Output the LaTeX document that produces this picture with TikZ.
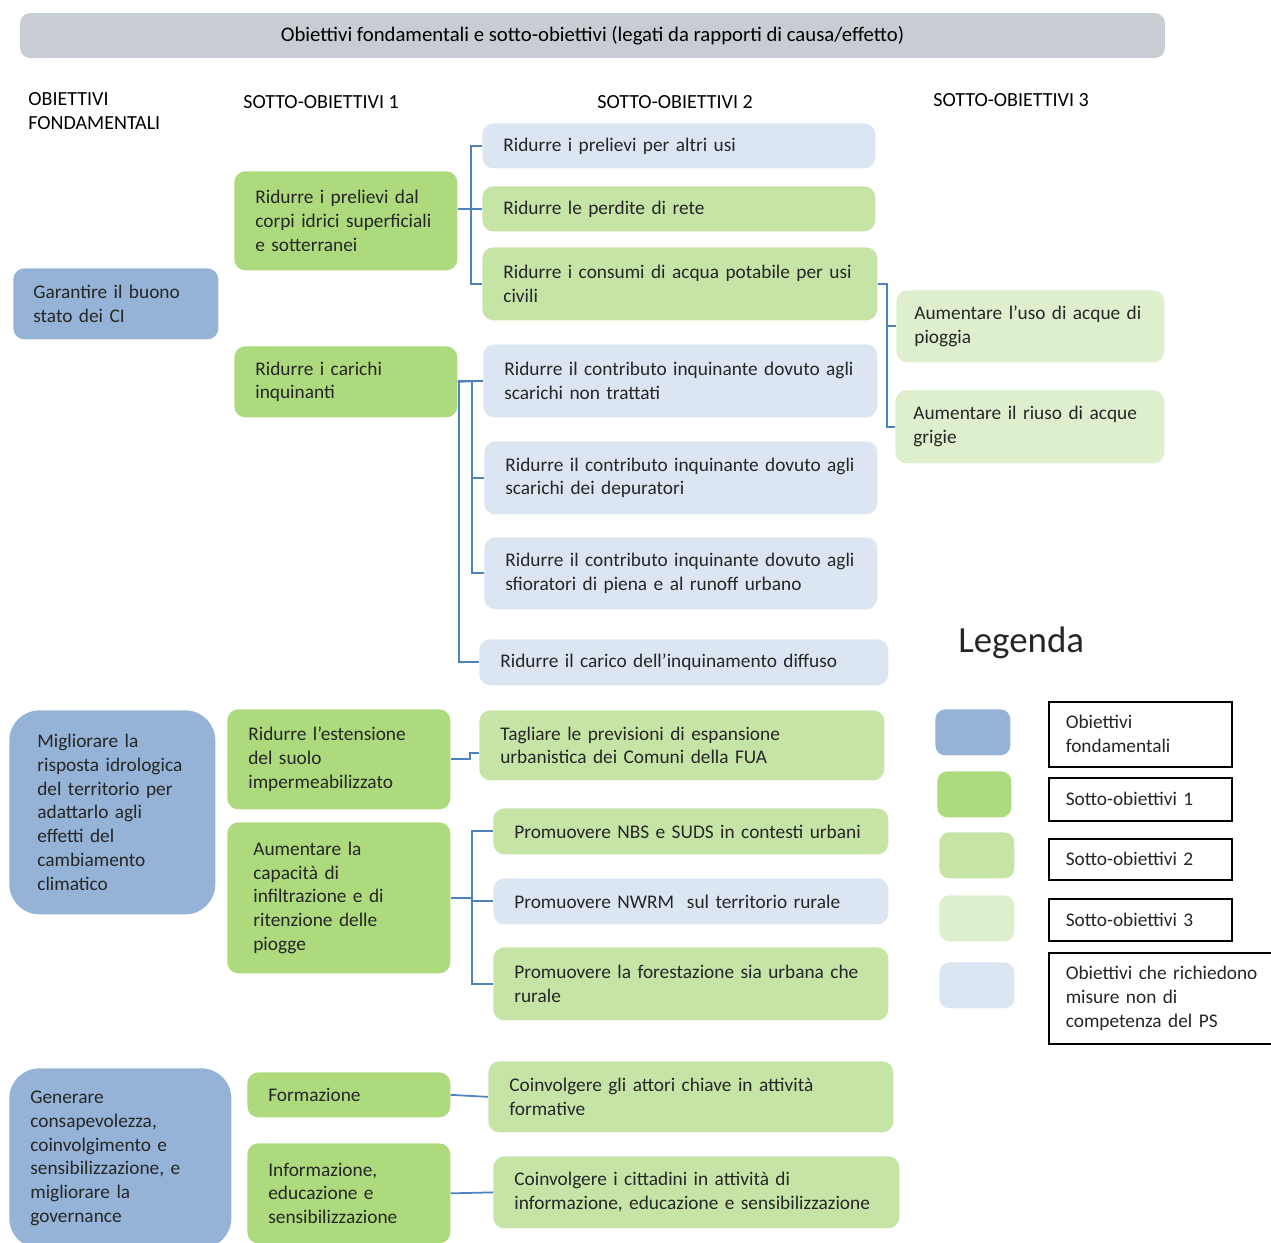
\documentclass[tikz,border=0pt]{standalone}
\usepackage{fontspec}
\setmainfont{Carlito}
\usepackage{xcolor}
\usepackage{tikz}
\definecolor{fundblue}{RGB}{149,179,215}
\definecolor{subgreen}{RGB}{173,218,124}
\definecolor{midgreen}{RGB}{199,228,167}
\definecolor{palegreen}{RGB}{222,239,206}
\definecolor{paleblue}{RGB}{220,230,242}
\definecolor{bargray}{RGB}{200,205,212}
\definecolor{linkblue}{RGB}{79,129,189}
\definecolor{textgray}{RGB}{38,38,38}
\tikzset{
    goal/.style={
        rectangle,
        rounded corners=0.22cm,
        anchor=north west,
        inner xsep=0.42cm,
        inner ysep=0pt,
        align=left,
        text=textgray,
        font=\fontsize{11pt}{13.6pt}\selectfont
    },
    fundamental/.style={
        goal,
        fill=fundblue
    },
    subgoal/.style={
        goal,
        fill=subgreen
    },
    second/.style={
        goal,
        fill=midgreen
    },
    third/.style={
        goal,
        fill=palegreen
    },
    external/.style={
        goal,
        fill=paleblue
    },
    wire/.style={
        draw=linkblue,
        line width=1pt
    },
    header/.style={
        anchor=west,
        inner sep=0pt,
        align=left,
        text=black,
        font=\fontsize{11.4pt}{13.6pt}\selectfont
    },
    legendbox/.style={
        rectangle,
        draw=black,
        line width=0.9pt,
        fill=white,
        anchor=north west,
        inner xsep=0.34cm,
        inner ysep=0pt,
        align=left,
        text=textgray,
        font=\fontsize{11pt}{13.6pt}\selectfont
    },
    swatch/.style={
        rectangle,
        rounded corners=0.2cm,
        anchor=north west,
        inner sep=0pt,
        minimum width=1.5cm,
        minimum height=0.92cm
    }
}
\begin{document}
\begin{tikzpicture}[x=0.02cm, y=-0.02cm]
\useasboundingbox (0,0) rectangle (1271,1242);

% Title bar and column headers
\node[rectangle, rounded corners=0.2cm, fill=bargray, minimum width=22.9cm, minimum height=0.9cm, font=\fontsize{11.8pt}{13.6pt}\selectfont] (title) at (592.5,35.5) {Obiettivi fondamentali e sotto-obiettivi (legati da rapporti di causa/effetto)};
\node[header] (h0) at (28,111) {OBIETTIVI\\FONDAMENTALI};
\node[header] (h1) at (243,102) {SOTTO-OBIETTIVI 1};
\node[header] (h2) at (597,102) {SOTTO-OBIETTIVI 2};
\node[header] (h3) at (933,100) {SOTTO-OBIETTIVI 3};

% Obiettivi fondamentali
\node[fundamental, text width=3.3cm, inner xsep=0.4cm, minimum height=1.42cm] (f1) at (13,268) {Garantire il buono\\stato dei CI};
\node[fundamental, rounded corners=0.6cm, text width=3.0cm, inner xsep=0.56cm, minimum height=4.08cm] (f2) at (9,710) {Migliorare la\\risposta idrologica\\del territorio per\\adattarlo agli\\effetti del\\cambiamento\\climatico};
\node[fundamental, rounded corners=0.6cm, text width=3.6cm, minimum height=3.6cm] (f3) at (9,1068) {Generare\\consapevolezza,\\coinvolgimento e\\sensibilizzazione, e\\migliorare la\\governance};

% Sotto-obiettivi 1
\node[subgoal, text width=3.62cm, minimum height=1.98cm] (s1a) at (234,171) {Ridurre i prelievi dal\\corpi idrici superficiali\\e sotterranei};
\node[subgoal, text width=3.62cm, minimum height=1.42cm] (s1b) at (234,346) {Ridurre i carichi\\inquinanti};
\node[subgoal, text width=3.62cm, minimum height=2cm] (s1c) at (227,709) {Ridurre l’estensione\\del suolo\\impermeabilizzato};
\node[subgoal, text width=3.42cm, inner xsep=0.52cm, minimum height=3.02cm] (s1d) at (227,822) {Aumentare la\\capacità di\\infiltrazione e di\\ritenzione delle\\piogge};
\node[subgoal, text width=3.22cm, minimum height=0.9cm] (s1e) at (247,1072) {Formazione};
\node[subgoal, text width=3.22cm, minimum height=2cm] (s1f) at (247,1143) {Informazione,\\educazione e\\sensibilizzazione};

% Sotto-obiettivi 2: prelievi
\node[external, text width=7.02cm, minimum height=0.9cm] (a1) at (482,123) {Ridurre i prelievi per altri usi};
\node[second, text width=7.02cm, minimum height=0.9cm] (a2) at (482,186) {Ridurre le perdite di rete};
\node[second, text width=7.06cm, minimum height=1.46cm] (a3) at (482,247) {Ridurre i consumi di acqua potabile per usi\\civili};

% Sotto-obiettivi 2: carichi inquinanti
\node[external, text width=7.04cm, minimum height=1.46cm] (b1) at (483,344) {Ridurre il contributo inquinante dovuto agli\\scarichi non trattati};
\node[external, text width=7.02cm, minimum height=1.46cm] (b2) at (484,441) {Ridurre il contributo inquinante dovuto agli\\scarichi dei depuratori};
\node[external, text width=7.02cm, minimum height=1.44cm] (b3) at (484,537) {Ridurre il contributo inquinante dovuto agli\\sfioratori di piena e al runoff urbano};
\node[external, text width=7.34cm, minimum height=0.92cm] (b4) at (479,639) {Ridurre il carico dell’inquinamento diffuso};

% Sotto-obiettivi 2: risposta idrologica
\node[second, text width=7.26cm, minimum height=1.4cm] (c1) at (479,710) {Tagliare le previsioni di espansione\\urbanistica dei Comuni della FUA};
\node[second, text width=7.06cm, minimum height=0.92cm] (d1) at (493,808) {Promuovere NBS e SUDS in contesti urbani};
\node[external, text width=7.06cm, minimum height=0.92cm] (d2) at (493,878) {Promuovere NWRM\ \ sul territorio rurale};
\node[second, text width=7.06cm, minimum height=1.46cm] (d3) at (493,947) {Promuovere la forestazione sia urbana che\\rurale};

% Sotto-obiettivi 2: consapevolezza
\node[second, text width=7.26cm, minimum height=1.42cm] (e1) at (488,1061) {Coinvolgere gli attori chiave in attività\\formative};
\node[second, text width=7.28cm, minimum height=1.44cm] (e2) at (493,1156) {Coinvolgere i cittadini in attività di\\informazione, educazione e sensibilizzazione};

% Sotto-obiettivi 3
\node[third, text width=4.64cm, inner xsep=0.36cm, minimum height=1.44cm] (g1) at (896,290) {Aumentare l’uso di acque di\\pioggia};
\node[third, text width=4.66cm, inner xsep=0.36cm, minimum height=1.46cm] (g2) at (895,390) {Aumentare il riuso di acque\\grigie};

% Connections
\draw[wire] (s1a.east |- a2.west) -- (a2.west);
\draw[wire] (a1.west) -- ++(-11,0) |- (a3.west);
\draw[wire] (a3.east) -- ++(9,0) |- (g2.west);
\draw[wire] (g1.west) -- ++(-10,0);
\draw[wire] (s1b.east) -- (b1.west);
\draw[wire] (b1.west) -- ++(-11,0) |- (b3.west);
\draw[wire] (b2.west) -- ++(-12,0);
\draw[wire] (b1.west) -- ++(-24,0) |- (b4.west);
\draw[wire] (s1c.east) -- ++(19,0) |- ([yshift=-0.16cm]c1.west);
\draw[wire] (s1d.east) -- ++(22,0);
\draw[wire] (d1.west) -- ++(-21,0) |- (d3.west);
\draw[wire] (d2.west) -- ++(-21,0);
\draw[wire] (s1e.east) -- (e1.west);
\draw[wire] (s1f.east) -- (e2.west);

% Legend
\node[header, text=textgray, font=\fontsize{21pt}{25pt}\selectfont] (legtitle) at (958,643) {Legenda};
\node[swatch, fill=fundblue] (sw1) at (935,709) {};
\node[swatch, fill=subgreen, minimum width=1.48cm] (sw2) at (937,771) {};
\node[swatch, fill=midgreen] (sw3) at (939,832) {};
\node[swatch, fill=palegreen] (sw4) at (939,895) {};
\node[swatch, fill=paleblue] (sw5) at (939,962) {};
\node[legendbox, text width=2.98cm, minimum height=1.3cm] (leg1) at (1048,701) {Obiettivi\\fondamentali};
\node[legendbox, text width=2.98cm, minimum height=0.86cm] (leg2) at (1048,777) {Sotto-obiettivi 1};
\node[legendbox, text width=2.98cm, minimum height=0.82cm] (leg3) at (1048,838) {Sotto-obiettivi 2};
\node[legendbox, text width=2.98cm, minimum height=0.84cm] (leg4) at (1048,898) {Sotto-obiettivi 3};
\node[legendbox, text width=4.02cm, minimum height=1.82cm] (leg5) at (1048,952) {Obiettivi che richiedono\\misure non di\\competenza del PS};

\end{tikzpicture}
\end{document}
